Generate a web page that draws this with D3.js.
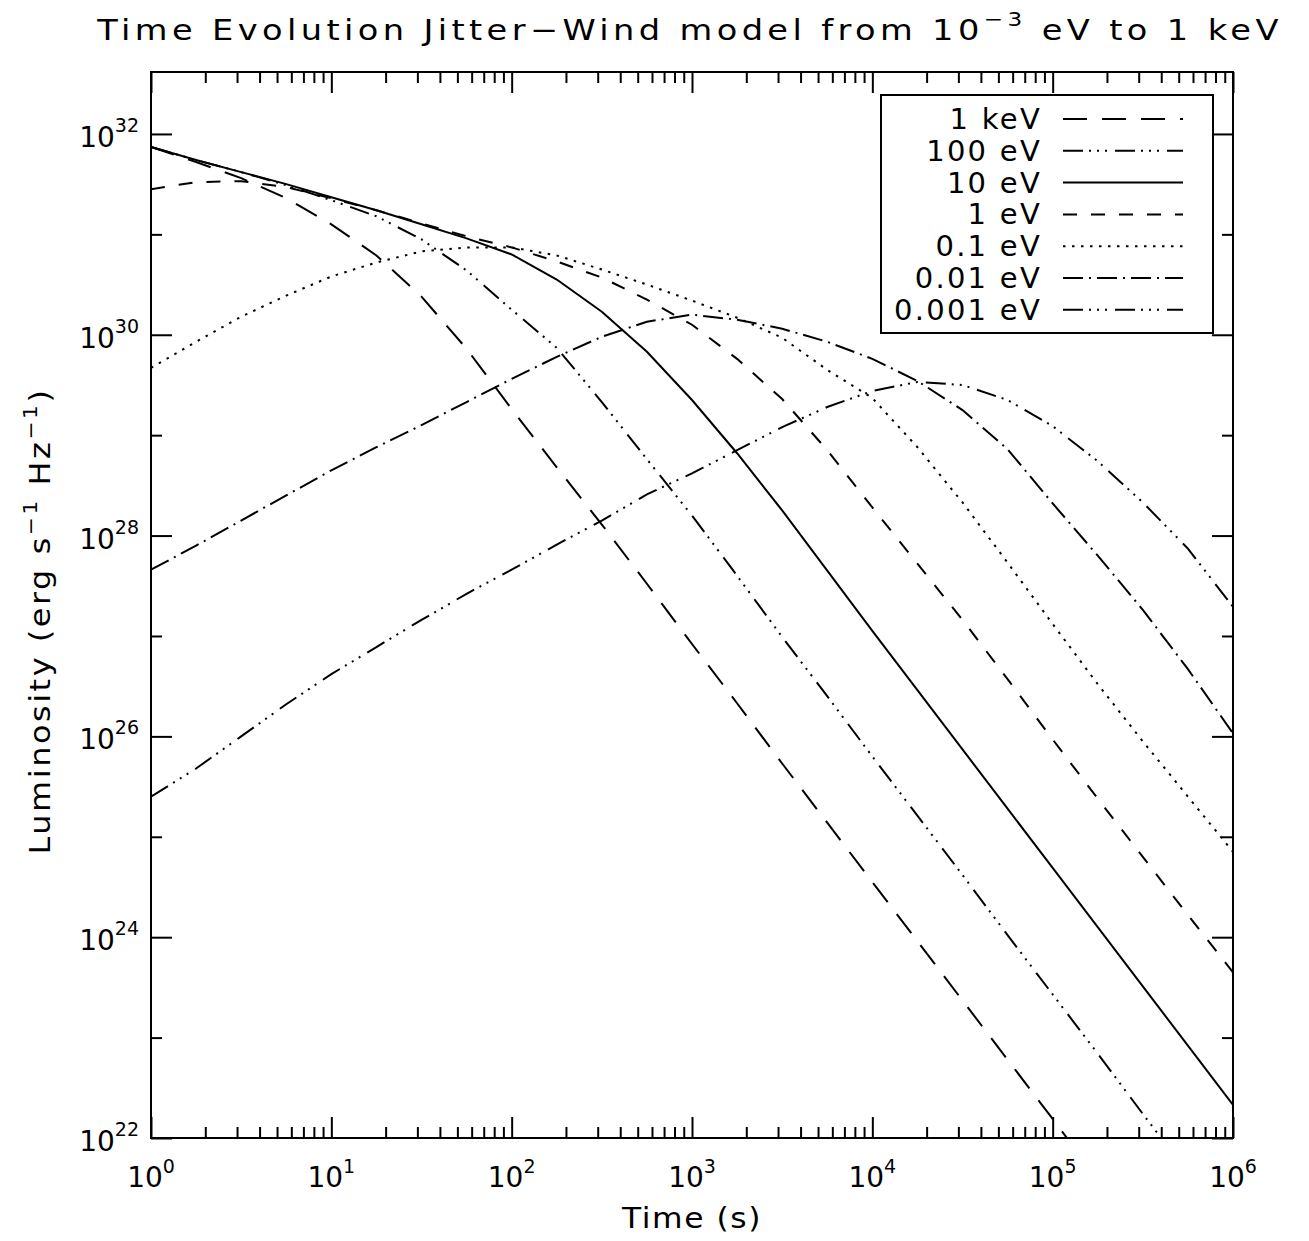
<!DOCTYPE html>
<html><head><meta charset="utf-8">
<script src="https://cdn.jsdelivr.net/npm/d3@7/dist/d3.min.js"></script>
<style>
body{margin:0;background:#fff}
text{font-family:"DejaVu Sans",sans-serif;fill:#000}
</style>
</head><body>
<svg id="c" width="1309" height="1241"></svg>
<script>
// ---- data (log10 of time in s, log10 of luminosity in erg s^-1 Hz^-1) ----
const logTime = [0,0.25,0.5,0.75,1,1.25,1.5,1.75,2,2.25,2.5,2.75,3,3.25,3.5,3.75,4,4.25,4.5,4.75,5,5.25,5.5,5.75,6];
const seriesNames = ["1 keV","100 eV","10 eV","1 eV","0.1 eV","0.01 eV","0.001 eV"];
const L_1keV   = [31.87,31.72,31.56,31.36,31.10,30.79,30.38,29.86,29.26,28.68,28.11,27.52,26.92,26.33,25.73,25.14,24.55,23.96,23.37,22.78,22.19,21.59,21.00,20.40,19.80];
const L_100eV  = [31.87,31.74,31.62,31.49,31.34,31.18,30.95,30.64,30.25,29.87,29.33,28.76,28.20,27.60,26.99,26.40,25.80,25.21,24.62,24.02,23.43,22.84,22.24,21.65,21.06];
const L_10eV   = [31.87,31.74,31.62,31.50,31.37,31.24,31.10,30.96,30.80,30.55,30.23,29.83,29.35,28.82,28.25,27.65,27.05,26.46,25.87,25.28,24.69,24.10,23.51,22.92,22.33];
const L_1eV    = [31.45,31.52,31.53,31.47,31.36,31.24,31.11,30.98,30.87,30.73,30.57,30.35,30.10,29.76,29.36,28.85,28.28,27.72,27.16,26.57,25.97,25.38,24.80,24.22,23.65];
const L_01eV   = [29.67,29.93,30.18,30.39,30.58,30.72,30.83,30.87,30.87,30.79,30.65,30.50,30.34,30.17,29.97,29.65,29.37,28.88,28.33,27.73,27.12,26.52,25.95,25.40,24.85];
const L_001eV  = [27.66,27.90,28.15,28.40,28.65,28.88,29.10,29.33,29.56,29.78,29.98,30.13,30.20,30.15,30.06,29.93,29.76,29.54,29.25,28.86,28.32,27.80,27.26,26.67,26.03];
const L_0001eV = [25.40,25.68,26.00,26.32,26.62,26.89,27.16,27.42,27.66,27.91,28.15,28.41,28.62,28.85,29.08,29.28,29.44,29.53,29.50,29.35,29.09,28.74,28.33,27.87,27.29];
const seriesValues = [L_1keV,L_100eV,L_10eV,L_1eV,L_01eV,L_001eV,L_0001eV];
const xTickExps = [0,1,2,3,4,5,6];
const yTickExps = [22,24,26,28,30,32];
const yMinorExps = [23,25,27,29,31];

// ---- styles ----
const dashes = ["24,15","20,6,2,6,2,6,2,8",null,"14,14","2.5,6.5","20,6,2,6","20,6,2,6,2,6,2,8"];

const Lx=151,Rx=1233,Ty=72,By=1138;
const x=d3.scaleLog().domain([1,1e6]).range([Lx,Rx]);
const y=d3.scaleLog().domain([1e22,Math.pow(10,32.617)]).range([By,Ty]);
const svg=d3.select('#c');
svg.append('rect').attr('width',1309).attr('height',1241).attr('fill','#fff');
svg.append('defs').append('clipPath').attr('id','clip').append('rect')
  .attr('x',Lx).attr('y',Ty).attr('width',Rx-Lx).attr('height',By-Ty);

// axes (ticks pointing inward)
const xMajor=xTickExps.map(e=>Math.pow(10,e));
const xMinor=[]; for(let e=0;e<6;e++) for(let m=2;m<=9;m++) xMinor.push(m*Math.pow(10,e));
const yMajor=yTickExps.map(e=>Math.pow(10,e));
const yMinor=yMinorExps.map(e=>Math.pow(10,e));
function addAxis(gen,tr){
  const g=svg.append('g').attr('transform',tr).call(gen);
  g.select('.domain').remove();
  g.selectAll('.tick line').attr('stroke','#000').attr('stroke-width',2);
  g.selectAll('.tick text').remove();
}
addAxis(d3.axisBottom(x).tickValues(xMajor).tickSize(-21).tickFormat(''),`translate(0,${By})`);
addAxis(d3.axisBottom(x).tickValues(xMinor).tickSize(-11).tickFormat(''),`translate(0,${By})`);
addAxis(d3.axisTop(x).tickValues(xMajor).tickSize(-21).tickFormat(''),`translate(0,${Ty})`);
addAxis(d3.axisTop(x).tickValues(xMinor).tickSize(-11).tickFormat(''),`translate(0,${Ty})`);
addAxis(d3.axisLeft(y).tickValues(yMajor).tickSize(-21).tickFormat(''),`translate(${Lx},0)`);
addAxis(d3.axisLeft(y).tickValues(yMinor).tickSize(-11).tickFormat(''),`translate(${Lx},0)`);
addAxis(d3.axisRight(y).tickValues(yMajor).tickSize(-21).tickFormat(''),`translate(${Rx},0)`);
addAxis(d3.axisRight(y).tickValues(yMinor).tickSize(-11).tickFormat(''),`translate(${Rx},0)`);
svg.append('rect').attr('x',Lx).attr('y',Ty).attr('width',Rx-Lx).attr('height',By-Ty)
  .attr('fill','none').attr('stroke','#000').attr('stroke-width',2);

// tick labels
xTickExps.forEach(e=>{
  const t=svg.append('text').attr('x',x(Math.pow(10,e))).attr('y',1187).attr('text-anchor','middle').attr('font-size',28);
  t.append('tspan').text('10');
  t.append('tspan').attr('dy',-14).attr('font-size',19).text(e);
});
yTickExps.forEach(e=>{
  const t=svg.append('text').attr('x',139).attr('y',y(Math.pow(10,e))+13).attr('text-anchor','end').attr('font-size',28);
  t.append('tspan').text('10');
  t.append('tspan').attr('dy',-15).attr('font-size',19).text(e);
});

// widen text (part by horizontal scale, rest by letter-spacing) to match target width
function fitScaled(g,t,target,maxScale){
  const n=t.node(); const len=n.getComputedTextLength(); const c=n.textContent.length;
  const s=Math.min(maxScale,target/len);
  const ls=(target/s-len)/c;
  t.attr('letter-spacing',ls.toFixed(2));
  return s;
}

// title
const tg=svg.append('g');
const title=tg.append('text').attr('x',0).attr('y',0).attr('text-anchor','middle').attr('font-size',29);
title.append('tspan').text('Time Evolution Jitter\u2212Wind model from 10');
title.append('tspan').attr('dy',-14).attr('font-size',20).text('\u22123');
title.append('tspan').attr('dy',14).text(' eV to 1 keV');
const s1=fitScaled(tg,title,1186,1.16);
tg.attr('transform',`translate(690,40) scale(${s1},1)`);

// axis titles
const xg=svg.append('g');
const xt=xg.append('text').attr('text-anchor','middle').attr('font-size',28).text('Time (s)');
const s2=fitScaled(xg,xt,140,1.12);
xg.attr('transform',`translate(692,1228) scale(${s2},1)`);

const yg=svg.append('g');
const yt=yg.append('text').attr('text-anchor','middle').attr('font-size',28);
yt.append('tspan').text('Luminosity (erg s');
yt.append('tspan').attr('dy',-13).attr('font-size',19).text('\u22121');
yt.append('tspan').attr('dy',13).text(' Hz');
yt.append('tspan').attr('dy',-13).attr('font-size',19).text('\u22121');
yt.append('tspan').attr('dy',13).text(')');
const s3=fitScaled(yg,yt,467,1.14);
yg.attr('transform',`translate(50,621) rotate(-90) scale(${s3},1)`);

// curves
const line=d3.line().x(d=>x(d[0])).y(d=>y(d[1]));
const gc=svg.append('g').attr('clip-path','url(#clip)');
seriesValues.forEach((vals,i)=>{
  const data=logTime.map((t,j)=>[Math.pow(10,t),Math.pow(10,vals[j])]);
  gc.append('path').datum(data).attr('d',line).attr('fill','none').attr('stroke','#000')
    .attr('stroke-width',2).attr('stroke-dasharray',dashes[i]);
});

// legend
const lg=svg.append('g');
lg.append('rect').attr('x',881).attr('y',95).attr('width',332).attr('height',238)
  .attr('fill','#fff').attr('stroke','#000').attr('stroke-width',2);
const lt=[];
seriesNames.forEach((nm,i)=>{
  const yy=119+i*31.8;
  lg.append('line').attr('x1',1063).attr('x2',1183).attr('y1',yy).attr('y2',yy)
    .attr('stroke','#000').attr('stroke-width',2).attr('stroke-dasharray',dashes[i]);
  lt.push(lg.append('text').attr('x',1042).attr('y',yy+10).attr('text-anchor','end').attr('font-size',29).text(nm));
});
const ref=lt[6].node(); const ls=(148-ref.getComputedTextLength())/8;
lt.forEach(t=>t.attr('letter-spacing',ls.toFixed(2)));
</script>
</body></html>
